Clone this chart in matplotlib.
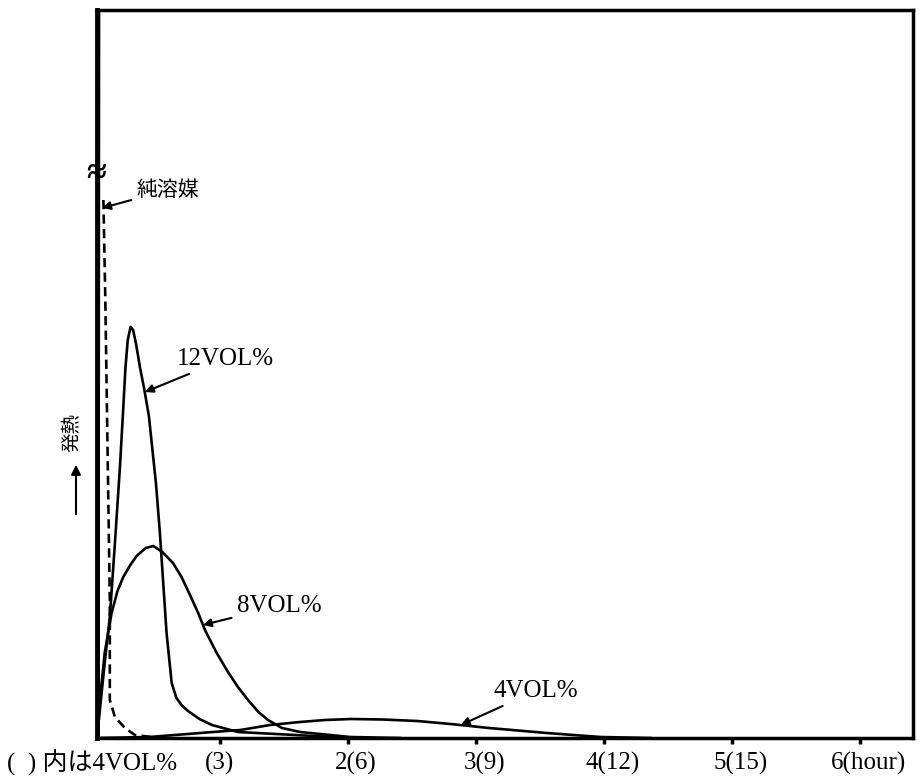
import numpy as np
import matplotlib
matplotlib.use("Agg")
import matplotlib.pyplot as plt
import matplotlib.transforms as mtransforms

# フォント (欧文は明朝風セリフ、和文は Noto CJK)
FONTS = ['Liberation Serif', 'Noto Sans CJK JP', 'DejaVu Sans']
JP_FONTS = ['Noto Sans CJK JP', 'Liberation Serif', 'DejaVu Sans']
plt.rcParams['font.family'] = FONTS
plt.rcParams['axes.unicode_minus'] = False

# --------------------------------------------------
# データ (図から読み取った値, 縦軸は任意単位)
# --------------------------------------------------
# 12VOL%
x_12 = [0.04, 0.0625, 0.10, 0.14, 0.18, 0.219, 0.245, 0.262, 0.28, 0.302, 0.322, 0.345,
        0.375, 0.41, 0.445, 0.50, 0.531, 0.583, 0.623, 0.66, 0.70, 0.75, 0.84, 0.9375,
        1.14, 1.586, 2.016]
y_12 = [0, 28, 75, 121, 195, 271, 330, 370, 398, 411, 408, 394,
        371, 348, 322, 255, 205, 105, 55, 40, 33, 27, 19, 13,
        6, 3, 0]

# 8VOL%
x_8 = [0.04, 0.045, 0.0625, 0.10, 0.154, 0.20, 0.245, 0.30, 0.349, 0.42, 0.479,
       0.55, 0.633, 0.70, 0.766, 0.83, 0.883, 0.97, 1.0625, 1.14, 1.219, 1.30, 1.375,
       1.484, 1.625, 2.016, 2.406]
y_8 = [0, 21, 38, 85, 125, 147, 161, 173, 182, 190, 192,
       186, 175, 161, 143, 125, 108, 86, 66, 51, 38, 26, 18,
       10, 6, 1, 0]

# 4VOL%
x_4 = [0.04, 0.45, 0.945, 1.16, 1.39, 1.625, 1.82, 2.02, 2.27, 2.54, 2.80, 3.10, 3.55, 3.97, 4.36]
y_4 = [0, 1, 6, 8, 13, 16, 18, 19, 18.5, 17, 14, 10, 5, 1, 0]

# 破線
x_dash = [0.09, 0.105, 0.14, 0.14, 0.18, 0.258, 0.336, 0.53]
y_dash = [538, 438, 138, 38, 21, 10, 3, 0]

# 純溶媒 (縦軸に沿って立ち上がる)
x_pure = [0.045, 0.05]
y_pure = [0, 728]

tick_pos = [1, 2, 3, 4, 5, 6]
tick_labels = ['(3)', '2(6)', '3(9)', '4(12)', '5(15)', '6(hour)']

# --------------------------------------------------
# 描画
# --------------------------------------------------
W, H = 923, 779
fig = plt.figure(figsize=(W / 100, H / 100), dpi=100)
ax = fig.add_axes([97 / W, 1 - 738 / H, (913 - 97) / W, (738 - 10) / H])

lw = 1.9
ax.plot(x_12, y_12, color='black', lw=lw)
ax.plot(x_8, y_8, color='black', lw=lw)
ax.plot(x_4, y_4, color='black', lw=lw)
ax.plot(x_dash, y_dash, color='black', lw=lw, dashes=(3.5, 2))
ax.plot(x_pure, y_pure, color='black', lw=3)

ax.set_xlim(0.04, 6.41)
ax.set_ylim(0, 728)

for side in ['top', 'right', 'bottom']:
    ax.spines[side].set_linewidth(2.5)
ax.spines['left'].set_linewidth(3.5)

ax.set_yticks([])
ax.set_xticks(tick_pos)
ax.set_xticklabels(tick_labels, fontsize=18)
ax.tick_params(axis='x', direction='out', length=4, width=2.5, pad=6)
offset = mtransforms.ScaledTranslation(8 / 100, 0, fig.dpi_scale_trans)
for lab in ax.get_xticklabels()[1:]:
    lab.set_transform(lab.get_transform() + offset)

# 軸の省略記号
ax.text(0.035, 563, '≈', fontsize=26, fontweight='bold', ha='center', va='center')

# ラベルと矢印
arrow = dict(arrowstyle='-|>', color='black', lw=1.5, mutation_scale=12,
             shrinkA=2, shrinkB=0)
ax.annotate('純溶媒', xy=(0.08, 530), xytext=(0.35, 548), fontsize=15,
            family=JP_FONTS, ha='left', va='center', arrowprops=arrow)
ax.annotate('12VOL%', xy=(0.414, 346), xytext=(0.664, 379), fontsize=18,
            ha='left', va='center', arrowprops=arrow)
ax.annotate('8VOL%', xy=(0.867, 113), xytext=(1.133, 132), fontsize=18,
            ha='left', va='center', arrowprops=arrow)
ax.annotate('4VOL%', xy=(2.88, 13), xytext=(3.133, 47), fontsize=18,
            ha='left', va='center', arrowprops=arrow)

# 縦軸ラベル (発熱 ↑)
fig.text(72 / W, 1 - 432 / H, '発熱', rotation=90, fontsize=14, family=JP_FONTS,
         ha='center', va='center')
ax.annotate('', xy=(76 / W, 1 - 462 / H), xycoords='figure fraction',
            xytext=(76 / W, 1 - 517 / H), textcoords='figure fraction',
            arrowprops=dict(arrowstyle='-|>', color='black', lw=1.5, mutation_scale=14),
            annotation_clip=False)

# 横軸注記
fig.text(7 / W, 1 - 762 / H, '(\u2002) 内は4VOL%', fontsize=18, family=FONTS,
         ha='left', va='center')

fig.savefig('out.png', dpi=100)
